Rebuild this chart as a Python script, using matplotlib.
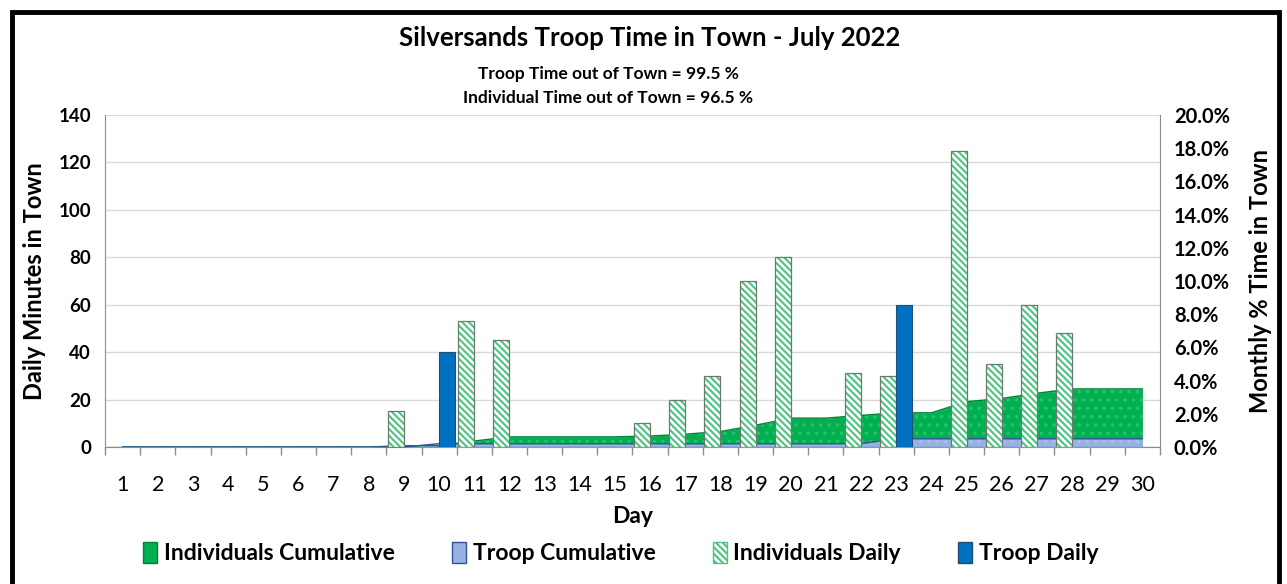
import numpy as np
import matplotlib.pyplot as plt
from matplotlib.patches import Patch, Rectangle
from matplotlib.ticker import FixedLocator, FuncFormatter

plt.rcParams['font.family'] = ['Lato', 'DejaVu Sans']
plt.rcParams['hatch.linewidth'] = 1.5

# ---- data ----
days = list(range(1, 31))
ind_daily = [0, 0, 0, 0, 0, 0, 0, 0, 15, 0, 53, 45, 0, 0, 0, 10, 20, 30, 70, 80,
             0, 31, 30, 0, 125, 35, 60, 48, 0, 0]
troop_daily = [0, 0, 0, 0, 0, 0, 0, 0, 0, 40, 0, 0, 0, 0, 0, 0, 0, 0, 0, 0,
               0, 0, 60, 0, 0, 0, 0, 0, 0, 0]
# cumulative share of the month spent in town (%)
ind_cum_pct = [0, 0, 0, 0, 0, 0, 0, 0, 0.08, 0.08, 0.36, 0.61, 0.61, 0.61, 0.61,
               0.66, 0.77, 0.93, 1.31, 1.74, 1.74, 1.90, 2.06, 2.06, 2.73, 2.92,
               3.24, 3.50, 3.50, 3.50]
troop_cum_pct = [0, 0, 0, 0, 0, 0, 0, 0, 0, 0.20, 0.20, 0.20, 0.20, 0.20, 0.20,
                 0.20, 0.20, 0.20, 0.20, 0.20, 0.20, 0.20, 0.50, 0.50, 0.50, 0.50,
                 0.50, 0.50, 0.50, 0.50]

title = "Silversands Troop Time in Town - July 2022"
sub1 = "Troop Time out of Town = 99.5 %"
sub2 = "Individual Time out of Town = 96.5 %"

# colours
GREEN = '#00b050'
GREEN_EDGE = '#00803a'
HATCH_GREEN = '#4cc47f'
LBLUE = '#97b1e2'
LBLUE_EDGE = '#2f5597'
BLUE = '#0070c0'
BLUE_EDGE = '#1f4e79'
GRID = '#d9d9d9'
AXIS = '#8c8c8c'

fig = plt.figure(figsize=(12.87, 5.84), dpi=100)
ax = fig.add_axes([0.0816, 0.2346, 0.8197, 0.5685])   # back: grid + left axis
ax2 = ax.twinx()                                       # middle: cumulative areas
ax3 = ax.twinx()                                       # front: daily bars
ax.set_zorder(1)
ax2.set_zorder(2)
ax3.set_zorder(3)
for a in (ax2, ax3):
    a.patch.set_visible(False)

x = np.array(days)
ax.set_xlim(0.5, 30.5)
ax.set_ylim(0, 140)
ax2.set_ylim(0, 20)
ax3.set_ylim(0, 140)

# grid on back axis
ax.yaxis.set_major_locator(FixedLocator(range(0, 141, 20)))
ax.grid(axis='y', color=GRID, linewidth=1)
ax.set_axisbelow(True)

# cumulative areas (secondary axis)
ax2.fill_between(x, ind_cum_pct, color=GREEN, linewidth=0)
ax2.fill_between(x, ind_cum_pct, facecolor='none', edgecolor='#26c06a',
                 hatch='..', linewidth=0)
ax2.plot(x, ind_cum_pct, color=GREEN_EDGE, linewidth=1)
ax2.fill_between(x, troop_cum_pct, color=LBLUE, linewidth=0)
ax2.fill_between(x, troop_cum_pct, facecolor='none', edgecolor='#a8bee8',
                 hatch='..', linewidth=0)
ax2.plot(x, troop_cum_pct, color=LBLUE_EDGE, linewidth=1)

# daily bars (clustered)
w = 0.455
ax3.bar(x - w / 2, ind_daily, w, color='white', edgecolor=HATCH_GREEN,
        hatch='\\\\\\\\\\', linewidth=0)
ax3.bar(x - w / 2, ind_daily, w, fill=False, edgecolor='#6b7a70', linewidth=0.9)
ax3.bar(x + w / 2, troop_daily, w, color=BLUE, edgecolor=BLUE_EDGE, linewidth=0.8)

# axes styling
for a in (ax, ax2, ax3):
    a.spines['top'].set_visible(False)
for a in (ax2, ax3):
    a.spines['left'].set_visible(False)
    a.spines['bottom'].set_visible(False)
ax3.spines['right'].set_visible(False)
ax3.set_yticks([])
ax.spines['right'].set_visible(False)
ax.spines['left'].set_color(AXIS)
ax.spines['bottom'].set_color(AXIS)
ax2.spines['right'].set_color(AXIS)

ax.set_xticks(days)
ax.set_xticklabels([str(d) for d in days], fontsize=15.5)
ax.set_xticks(np.arange(0.5, 31, 1), minor=True)
ax.tick_params(axis='x', which='major', length=0, pad=20)
ax.tick_params(axis='x', which='minor', length=6, color=AXIS, width=1)
ax.tick_params(axis='y', length=0, pad=10)
for lbl in ax.get_yticklabels():
    lbl.set_fontsize(13.5)
    lbl.set_fontweight('bold')

ax2.yaxis.set_major_locator(FixedLocator(np.arange(0, 20.1, 2)))
ax2.yaxis.set_major_formatter(FuncFormatter(lambda v, p: f"{v:.1f}%"))
ax2.tick_params(axis='y', length=0, pad=10)
for lbl in ax2.get_yticklabels():
    lbl.set_fontsize(14.5)
    lbl.set_fontweight('bold')

ax.set_xlabel("Day", fontsize=16.5, fontweight='bold', labelpad=8)
ax.set_ylabel("Daily Minutes in Town", fontsize=17, fontweight='bold', labelpad=9)
ax2.set_ylabel("Monthly % Time in Town", fontsize=17, fontweight='bold', labelpad=14)

fig.text(0.5045, 0.935, title, ha='center', va='center', fontsize=18.5, fontweight='bold')
fig.text(0.4725, 0.873, sub1, ha='center', va='center', fontsize=12.5, fontweight='bold')
fig.text(0.4725, 0.832, sub2, ha='center', va='center', fontsize=12.5, fontweight='bold')

handles = [
    Patch(facecolor=GREEN, edgecolor=GREEN_EDGE, label='Individuals Cumulative'),
    Patch(facecolor=LBLUE, edgecolor=LBLUE_EDGE, label='Troop Cumulative'),
    Patch(facecolor='white', edgecolor=HATCH_GREEN, hatch='\\\\\\\\\\', label='Individuals Daily'),
    Patch(facecolor=BLUE, edgecolor=BLUE_EDGE, label='Troop Daily'),
]
leg = fig.legend(handles=handles, loc='center', bbox_to_anchor=(0.4825, 0.053), ncol=4,
                 frameon=False, prop={'weight': 'bold', 'size': 16.5},
                 handlelength=0.6, handleheight=1.0, handletextpad=0.3,
                 columnspacing=2.5)

# black frame around the chart
fig.patches.append(Rectangle((12 / 1287, -0.05), 1267 / 1287, 1.05 - 12 / 584,
                             transform=fig.transFigure, fill=False,
                             edgecolor='black', linewidth=3.5))

fig.savefig('out.png', dpi=100)
